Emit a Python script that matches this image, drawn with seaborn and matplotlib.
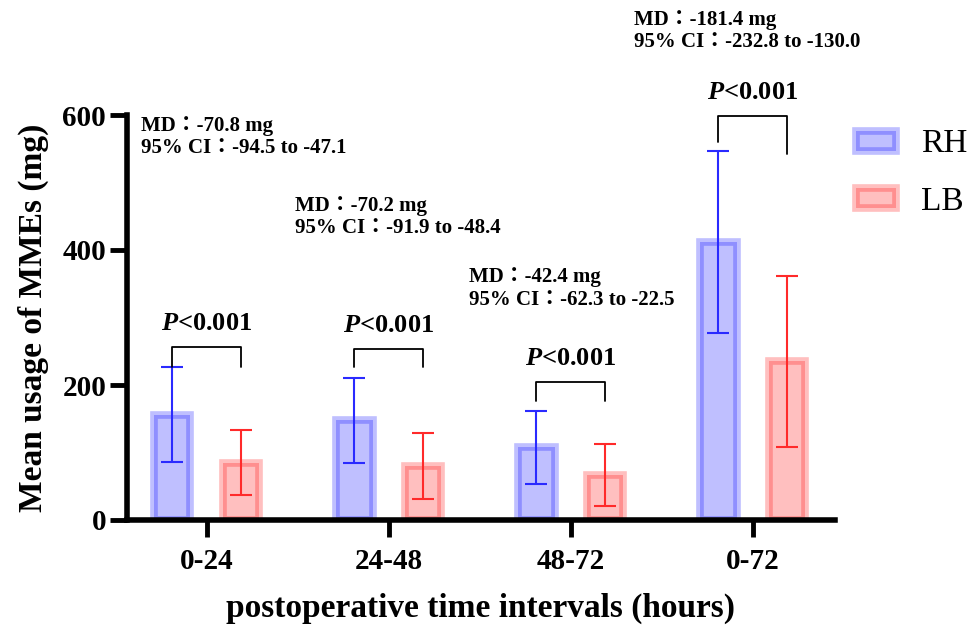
import numpy as np
import pandas as pd
import matplotlib
matplotlib.use("Agg")
import matplotlib.pyplot as plt
import seaborn as sns
from matplotlib.patches import Patch

# ---------------- data ----------------
intervals = ["0-24", "24-48", "48-72", "0-72"]
groups = ["RH", "LB"]
rh_mean = [156, 148, 108, 412]
rh_sd = [70, 63, 54, 135]
lb_mean = [85, 80, 67, 235]
lb_sd = [48, 49, 46, 127]
p_texts = [r"$\mathit{P}$<0.001"] * 4
md_texts = ["MD：-70.8 mg", "MD：-70.2 mg", "MD：-42.4 mg", "MD：-181.4 mg"]
ci_texts = ["95% CI：-94.5 to -47.1", "95% CI：-91.9 to -48.4",
            "95% CI：-62.3 to -22.5", "95% CI：-232.8 to -130.0"]
y_ticks = [0, 200, 400, 600]

# annotation layout (data units)
bracket_top = [257, 254, 205, 599]
bracket_left_end = [227, 226, 177, 560]
bracket_right_end = [227, 226, 177, 542]
md_pos = [(-0.36, 567), (0.486, 449), (1.442, 343), (2.349, 724)]

# ---------------- style ----------------
sns.set_style("ticks")
plt.rcParams["font.family"] = ["Liberation Serif", "Noto Sans CJK JP"]
plt.rcParams["mathtext.fontset"] = "custom"
plt.rcParams["mathtext.it"] = "Liberation Serif:italic:bold"
plt.rcParams["mathtext.rm"] = "Liberation Serif:bold"
plt.rcParams["mathtext.bf"] = "Liberation Serif:bold"
for k in ["text.color", "axes.labelcolor", "xtick.color", "ytick.color",
          "axes.edgecolor", "xtick.labelcolor", "ytick.labelcolor"]:
    plt.rcParams[k] = "black"

fill = {"RH": (0, 0, 1, 0.25), "LB": (1, 0, 0, 0.25)}
err_col = {"RH": "#2a2aff", "LB": "#ff2a2a"}
EDGE_LW = 5.5

df = pd.DataFrame({
    "interval": intervals * 2,
    "group": ["RH"] * len(intervals) + ["LB"] * len(intervals),
    "mme": rh_mean + lb_mean,
})

fig = plt.figure(figsize=(9.69, 6.3), dpi=100)
ax = fig.add_axes([127 / 969, 110 / 630, 708 / 969, 405 / 630])

sns.barplot(data=df, x="interval", y="mme", hue="group", order=intervals,
            hue_order=groups, palette={"RH": "blue", "LB": "red"},
            errorbar=None, width=0.75, gap=0.47, saturation=1,
            legend=False, ax=ax)

centers = {}
for g, cont, means, sds in zip(groups, ax.containers, [rh_mean, lb_mean], [rh_sd, lb_sd]):
    xs = []
    for bar in cont:
        bar.set_facecolor(fill[g])
        bar.set_edgecolor(fill[g])
        bar.set_linewidth(EDGE_LW)
        xs.append(bar.get_x() + bar.get_width() / 2)
    centers[g] = xs
    ax.errorbar(xs, means, yerr=sds, fmt="none", ecolor=err_col[g],
                elinewidth=1.5, capsize=8, capthick=1.5, zorder=5)

# brackets and p values
for i in range(len(intervals)):
    xl, xr = centers["RH"][i], centers["LB"][i]
    ax.plot([xl, xl, xr, xr],
            [bracket_left_end[i], bracket_top[i], bracket_top[i], bracket_right_end[i]],
            color="black", lw=1.3, clip_on=False, zorder=6)
    ax.text((xl + xr) / 2, bracket_top[i] + 25, p_texts[i], ha="center",
            va="baseline", fontsize=19, fontweight="bold", clip_on=False)
    ax.text(md_pos[i][0], md_pos[i][1], md_texts[i] + "\n" + ci_texts[i],
            ha="left", va="center", fontsize=15, fontweight="bold",
            linespacing=1.15, clip_on=False)

ax.set_xlim(-0.437, 3.453)
ax.set_ylim(0, 600)
ax.set_yticks(y_ticks)
ax.set_xlabel("postoperative time intervals (hours)", fontsize=24, fontweight="bold")
ax.set_ylabel("Mean usage of MMEs (mg)", fontsize=24, fontweight="bold")
ax.xaxis.set_label_coords(0.5, -0.18)
ax.yaxis.set_label_coords(-0.11, 0.5)

for s in ["top", "right"]:
    ax.spines[s].set_visible(False)
for s in ["left", "bottom"]:
    ax.spines[s].set_linewidth(4)
    ax.spines[s].set_color("black")
ax.tick_params(axis="both", width=3.5, length=12, labelsize=21, pad=3, color="black")
ax.tick_params(axis="x", pad=8)
for lbl in ax.get_xticklabels() + ax.get_yticklabels():
    lbl.set_fontweight("bold")

handles = [Patch(facecolor=fill[g], edgecolor=fill[g], linewidth=EDGE_LW) for g in groups]
ax.legend(handles, groups, loc="upper left", bbox_to_anchor=(856 / 969, 1 - 129 / 630),
          bbox_transform=fig.transFigure, frameon=False, fontsize=24,
          handlelength=1.2, handleheight=0.55, handletextpad=0.75,
          labelspacing=0.8, borderpad=0, borderaxespad=0)

fig.savefig("out.png", dpi=100)
